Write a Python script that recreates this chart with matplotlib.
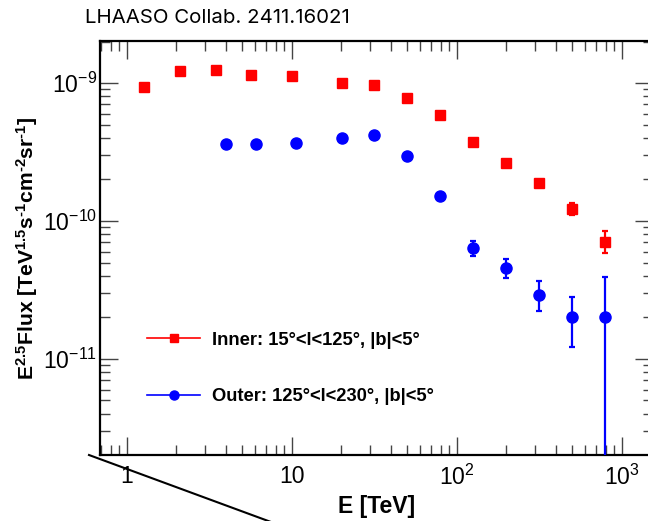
import matplotlib
matplotlib.use("Agg")
import matplotlib.pyplot as plt
from matplotlib.lines import Line2D
from matplotlib.ticker import LogLocator, FixedLocator, FixedFormatter, NullFormatter

# ---- data -------------------------------------------------------------
inner_E = [1.28, 2.1, 3.5, 5.7, 10.1, 20.1, 31.5, 50, 79, 126, 200, 316, 501, 794]
inner_flux = [9.35e-10, 1.23e-9, 1.24e-9, 1.15e-9, 1.12e-9, 1.0e-9, 9.77e-10,
              7.82e-10, 5.87e-10, 3.74e-10, 2.65e-10, 1.90e-10, 1.22e-10, 7.08e-11]
inner_err_lo = [0, 0, 0, 0, 0, 0, 0, 0, 0, 0, 0, 0, 1.15e-11, 1.21e-11]
inner_err_hi = [0, 0, 0, 0, 0, 0, 0, 0, 0, 0, 0, 0, 1.30e-11, 1.33e-11]

outer_E = [4.0, 6.1, 10.6, 20.1, 31.5, 50, 79, 126, 200, 316, 501, 794]
outer_flux = [3.61e-10, 3.63e-10, 3.67e-10, 3.99e-10, 4.20e-10, 2.94e-10,
              1.53e-10, 6.37e-11, 4.59e-11, 2.92e-11, 2.0e-11, 2.0e-11]
outer_err_lo = [0, 0, 0, 0, 0, 0, 0, 0.77e-11, 0.71e-11, 0.71e-11, 0.77e-11, 2.0e-11]
outer_err_hi = [0, 0, 0, 0, 0, 0, 0, 0.83e-11, 0.74e-11, 0.73e-11, 0.79e-11, 1.93e-11]

inner_label = "Inner: 15°<l<125°, |b|<5°"
outer_label = "Outer: 125°<l<230°, |b|<5°"
title_text = "LHAASO Collab. 2411.16021"

x_ticks = [1, 10, 100, 1000]
x_ticklabels = ["1", "10", r"$\mathregular{10^{2}}$", r"$\mathregular{10^{3}}$"]
y_ticks = [1e-11, 1e-10, 1e-9]
y_ticklabels = [r"$\mathregular{10^{-11}}$", r"$\mathregular{10^{-10}}$", r"$\mathregular{10^{-9}}$"]

# ---- style ------------------------------------------------------------
plt.rcParams["font.family"] = ["Liberation Sans", "DejaVu Sans"]
plt.rcParams["mathtext.fontset"] = "custom"
plt.rcParams["mathtext.rm"] = "Liberation Sans"
plt.rcParams["mathtext.bf"] = "Liberation Sans:bold"
plt.rcParams["mathtext.it"] = "Liberation Sans:italic"

W, H = 648, 521
fig = plt.figure(figsize=(W / 100, H / 100), dpi=100)
ax = fig.add_axes([100 / W, (H - 455) / H, 553 / W, 414 / H])

ax.set_xscale("log")
ax.set_yscale("log")
ax.set_xlim(0.689, 1550)
ax.set_ylim(2.01e-12, 2.02e-9)

ax.errorbar(inner_E, inner_flux, yerr=[inner_err_lo, inner_err_hi], fmt="s",
            color="#ff0000", ms=7.5, elinewidth=1.6, capsize=2.5, capthick=1.6,
            zorder=3)
ax.errorbar(outer_E, outer_flux, yerr=[outer_err_lo, outer_err_hi], fmt="o",
            color="#0000ff", ms=8, elinewidth=1.6, capsize=2.5, capthick=1.6,
            zorder=3)

# ticks: ROOT-like, inward on all four sides
ax.xaxis.set_major_locator(FixedLocator(x_ticks))
ax.xaxis.set_major_formatter(FixedFormatter(x_ticklabels))
ax.xaxis.set_minor_locator(LogLocator(base=10, subs=range(2, 10), numticks=20))
ax.xaxis.set_minor_formatter(NullFormatter())
ax.yaxis.set_major_locator(FixedLocator(y_ticks))
ax.yaxis.set_major_formatter(FixedFormatter(y_ticklabels))
ax.yaxis.set_minor_locator(LogLocator(base=10, subs=range(2, 10), numticks=20))
ax.yaxis.set_minor_formatter(NullFormatter())

ax.tick_params(which="both", direction="in", top=True, right=True, width=1.0,
               color="#444444")
ax.tick_params(which="major", length=13, labelsize=16.5)
ax.tick_params(which="minor", length=7)
ax.tick_params(axis="x", which="major", pad=7)
ax.tick_params(axis="y", which="major", pad=2)
for s in ax.spines.values():
    s.set_linewidth(1.6)

ax.set_xlabel("E [TeV]", fontsize=16.5, fontweight="bold", labelpad=4)
ax.set_ylabel("$\\mathbf{E^{2.5}Flux\\ [TeV^{1.5}s^{\u20101}cm^{\u20102}sr^{\u20101}]}$",
              fontsize=15.2, labelpad=2)

handles = [
    Line2D([], [], color="#ff0000", marker="s", ms=6, lw=1.2),
    Line2D([], [], color="#0000ff", marker="o", ms=6.5, lw=1.2),
]
leg = ax.legend(handles, [inner_label, outer_label], loc="upper left",
                bbox_to_anchor=(0.085, 0.298), frameon=False,
                prop={"weight": "bold", "size": 13.2},
                handlelength=2.9, handletextpad=0.65, labelspacing=2.15,
                borderpad=0, borderaxespad=0)

fig.text(85 / W, 1 - 18 / H, title_text, fontsize=14.7, va="center", ha="left",
         family=["Inter", "DejaVu Sans"])

# diagonal pointer line under the plot
fig.add_artist(Line2D([89 / W, 290 / W], [1 - 455 / H, 1 - 529 / H],
                      transform=fig.transFigure, color="black", lw=1.5))

fig.savefig("out.png", dpi=100)
